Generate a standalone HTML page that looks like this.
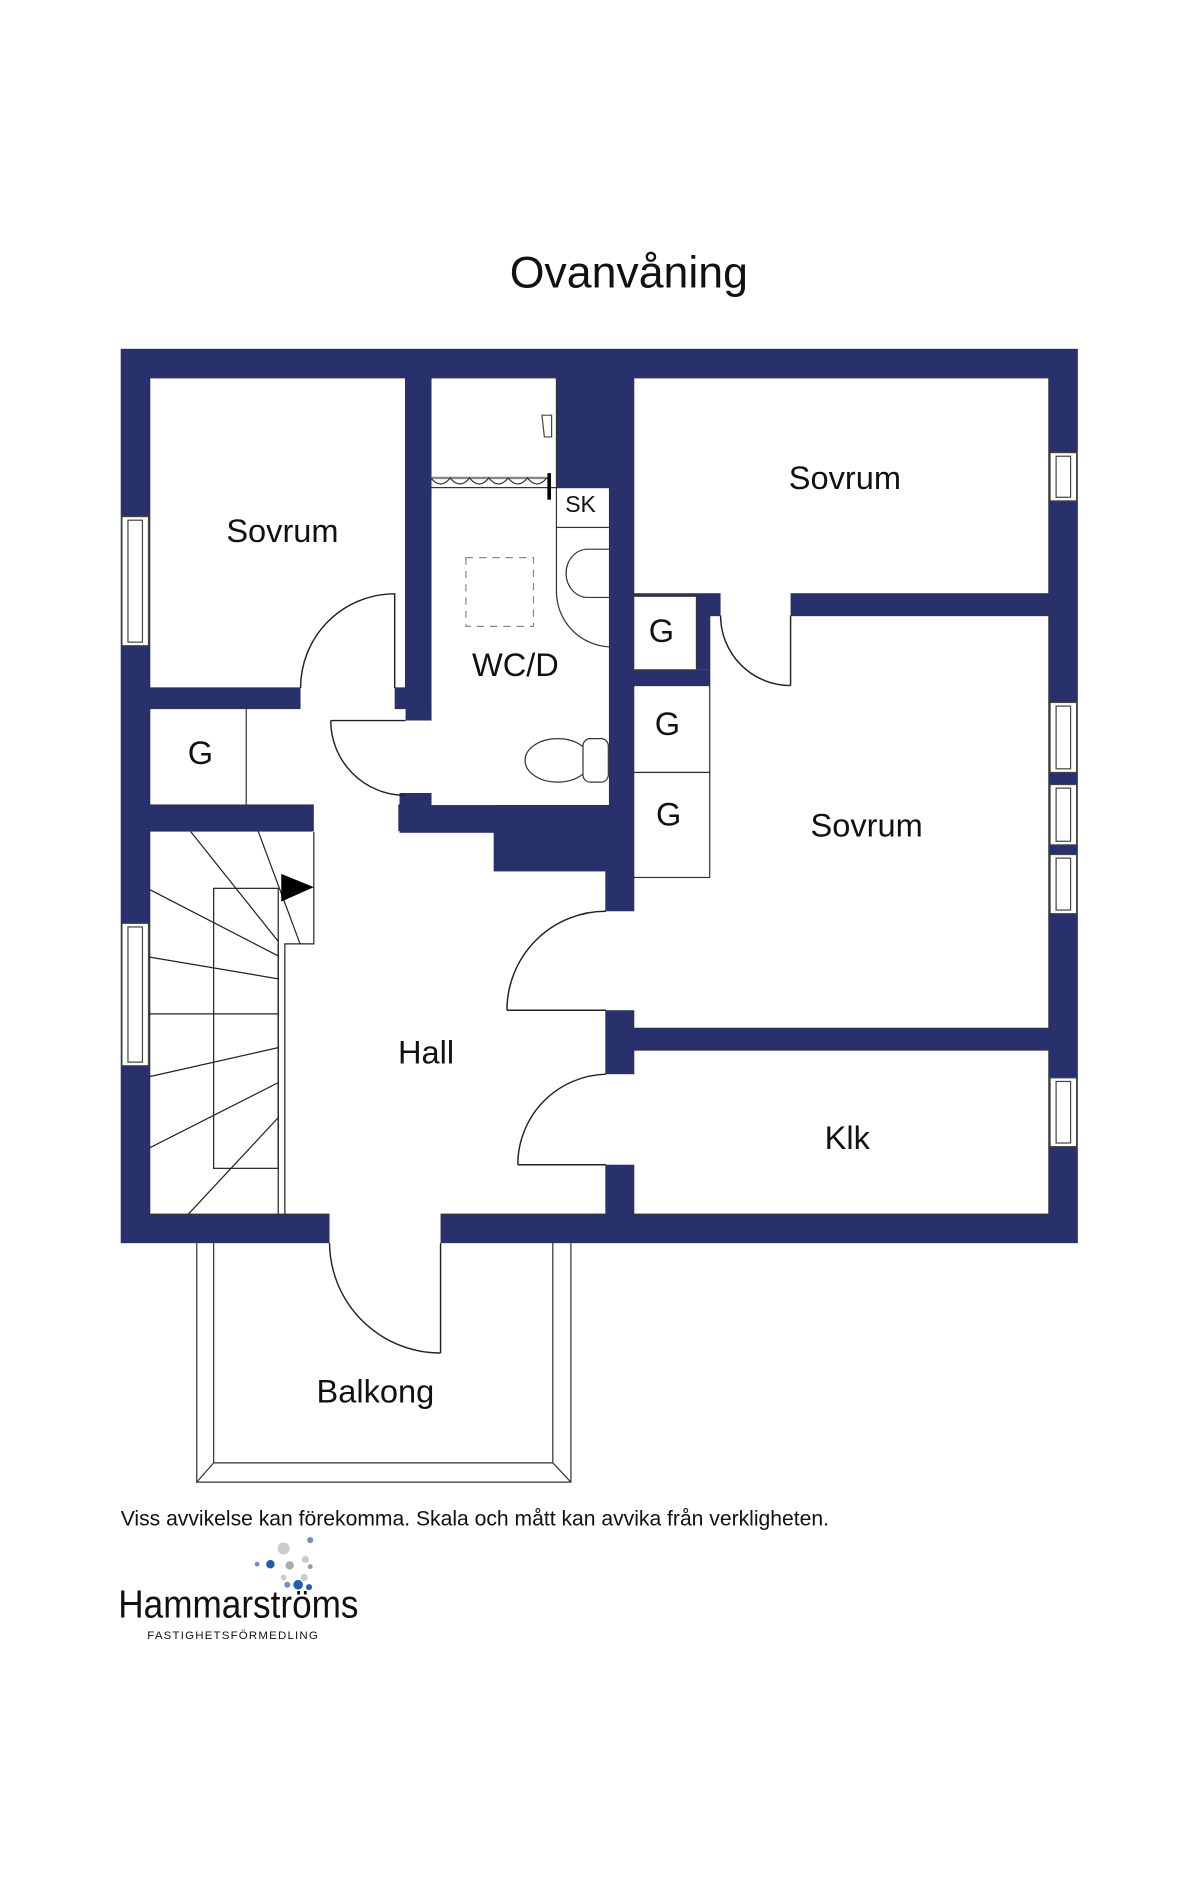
<!DOCTYPE html>
<html><head><meta charset="utf-8"><style>
html,body{margin:0;padding:0;background:#fff;}
svg{display:block;}
text{font-family:"Liberation Sans",Arial,sans-serif;fill:#111;}
</style></head><body>
<svg width="1200" height="1893" viewBox="0 0 994.2 1568.4" xmlns="http://www.w3.org/2000/svg">
<text x="521" y="238" font-size="37" text-anchor="middle">Ovanvåning</text>

<rect x="100" y="289" width="793" height="741" fill="#28316c"/>
<g fill="#fff" stroke="#333" stroke-width="1">
<rect x="124" y="313" width="212" height="257"/>
<rect x="357" y="313" width="104" height="91"/>
<rect x="357" y="404" width="148" height="266"/>
<rect x="124" y="587" width="233" height="80"/>
<rect x="124" y="688" width="378" height="318"/>
<rect x="525" y="313" width="344" height="179"/>
<rect x="525" y="510" width="344" height="342"/>
<rect x="525" y="870" width="344" height="136"/>
</g>
<g fill="#28316c">
<rect x="331" y="667" width="174" height="23"/>
<rect x="409" y="667" width="96" height="55"/>
<rect x="502" y="667" width="23" height="88"/>
<rect x="502" y="837" width="23" height="53"/>
<rect x="502" y="965" width="23" height="41"/>
<rect x="123" y="667" width="136" height="22"/>
<rect x="336" y="313" width="21" height="284"/>
<rect x="327" y="570" width="30" height="17"/>
<rect x="331" y="657" width="26" height="12"/>
<rect x="124" y="570" width="125" height="17"/>
<rect x="655" y="492" width="214" height="18"/>
<rect x="575" y="492" width="22" height="18"/>
<rect x="577" y="510" width="11" height="45"/>
<rect x="525" y="555" width="63" height="13"/>
<rect x="525" y="852" width="344" height="18"/>
</g>
<g fill="#fff">
<rect x="249" y="569" width="78" height="19"/>
<rect x="335" y="597" width="23" height="60"/>
<rect x="501" y="755" width="25" height="82"/>
<rect x="501" y="890" width="25" height="75"/>
<rect x="597" y="491" width="58" height="20"/>
<rect x="273" y="1005" width="92" height="26"/>
<rect x="260" y="666" width="70" height="24"/>
<rect x="205" y="588" width="126" height="78"/>
</g>
<g fill="none" stroke="#333" stroke-width="1">
<line x1="204" y1="587" x2="204" y2="667"/>
<rect x="525" y="494" width="52" height="61" fill="#fff"/>
<rect x="525" y="568" width="63" height="72" fill="#fff"/>
<rect x="525" y="640" width="63" height="87" fill="#fff"/>
<line x1="588" y1="510" x2="588" y2="568"/>
</g>
<g fill="#fff" stroke="#444" stroke-width="1">
<rect x="101" y="428" width="22" height="107"/><rect x="106" y="431" width="12" height="101"/>
<rect x="101" y="765" width="22" height="118"/><rect x="106" y="768" width="12" height="112"/>
<rect x="870" y="375" width="22" height="40"/><rect x="875" y="378" width="12" height="34"/>
<rect x="870" y="582" width="22" height="58"/><rect x="875" y="585" width="12" height="52"/>
<rect x="870" y="650" width="22" height="50"/><rect x="875" y="653" width="12" height="44"/>
<rect x="870" y="708" width="22" height="49"/><rect x="875" y="711" width="12" height="43"/>
<rect x="870" y="893" width="22" height="57"/><rect x="875" y="896" width="12" height="51"/>
</g>
<g fill="none" stroke="#222" stroke-width="1.2">
<path d="M249,570 A78,78 0 0 1 327,492 L327,570"/>
<path d="M274,597 L336,597 M274,597 A62,62 0 0 0 336,659"/>
<path d="M420,837 L502,837 M420,837 A82,82 0 0 1 502,755"/>
<path d="M429,965 L502,965 M429,965 A75,75 0 0 1 502,890"/>
<path d="M655,510 L655,568 M597,510 A58,58 0 0 0 655,568"/>
<path d="M365,1030 L365,1121 M273,1030 A92,92 0 0 0 365,1121"/>
</g>
<g fill="none" stroke="#222" stroke-width="1">
<path d="M260,689 L260,782 L236,782 L236,1006 M230.5,782 L230.5,1006"/>
<rect x="177" y="736" width="53.5" height="232"/>
<line x1="158" y1="689" x2="230.5" y2="780"/>
<line x1="214" y1="689" x2="248.6" y2="782"/>
<line x1="124" y1="737" x2="230.5" y2="792"/>
<line x1="124" y1="793" x2="230.5" y2="811"/>
<line x1="124" y1="840" x2="230.5" y2="840"/>
<line x1="124" y1="892" x2="230.5" y2="868"/>
<line x1="124" y1="951" x2="230.5" y2="897"/>
<line x1="156" y1="1006" x2="230.5" y2="926"/>
</g>
<polygon points="233,724 260,735 233,747" fill="#000"/>
<g fill="none" stroke="#333" stroke-width="1">
<rect x="461" y="404" width="44" height="33" fill="#fff"/>
<path d="M461,437 L461,490 A46,46 0 0 0 505,536"/>
<path d="M505,455 L487,455 A18,20 0 0 0 487,495 L505,495"/>
<rect x="386" y="462" width="56" height="57" stroke="#888" stroke-dasharray="6,5"/>
<ellipse cx="462" cy="630" rx="27" ry="18" fill="#fff"/>
<rect x="483" y="612" width="21" height="36" rx="6" fill="#fff"/>
<path d="M357,396 L455,396" stroke="#888" stroke-width="2"/>
<path d="M357,396 q8,10 16,0 q8,10 16,0 q8,10 16,0 q8,10 16,0 q8,10 16,0 q8,10 16,0" />
<path d="M449,344 h8 v18 h-6 z" stroke="#444"/>
</g>
<line x1="455" y1="392" x2="455" y2="414" stroke="#000" stroke-width="3"/>
<g fill="none" stroke="#333" stroke-width="1">
<path d="M163,1030 L163,1228 L473,1228 L473,1030"/>
<path d="M177,1030 L177,1212 L458,1212 L458,1030"/>
<line x1="163" y1="1228" x2="177" y2="1212"/>
<line x1="473" y1="1228" x2="458" y2="1212"/>
</g>
<g font-size="27" text-anchor="middle">
<text x="234" y="449">Sovrum</text>
<text x="700" y="405">Sovrum</text>
<text x="718" y="693">Sovrum</text>
<text x="427" y="560">WC/D</text>
<text x="353" y="881">Hall</text>
<text x="702" y="952">Klk</text>
<text x="311" y="1162">Balkong</text>
<text x="166" y="633">G</text>
<text x="548" y="532">G</text>
<text x="553" y="609">G</text>
<text x="554" y="684">G</text>
</g>
<text x="481" y="424" font-size="19" text-anchor="middle">SK</text>
<text x="100" y="1264" font-size="17.5">Viss avvikelse kan förekomma. Skala och mått kan avvika från verkligheten.</text>
<g>
<circle cx="257" cy="1276" r="2.5" fill="#6b8fc8"/>
<circle cx="235" cy="1283" r="5" fill="#ccc"/>
<circle cx="253" cy="1292" r="3" fill="#ccc"/>
<circle cx="213" cy="1296" r="2" fill="#6b8fc8"/>
<circle cx="224" cy="1296" r="3.5" fill="#1f5fae"/>
<circle cx="240" cy="1297" r="3.5" fill="#aaa"/>
<circle cx="257" cy="1298" r="2" fill="#999"/>
<circle cx="235" cy="1307" r="2.5" fill="#ccc"/>
<circle cx="252" cy="1307" r="3" fill="#ccc"/>
<circle cx="238" cy="1313" r="2.5" fill="#6b8fc8"/>
<circle cx="247" cy="1313" r="4" fill="#1f5fae"/>
<circle cx="256" cy="1315" r="2.5" fill="#1f5fae"/>
</g>
<text x="98" y="1340" font-size="32" textLength="199" lengthAdjust="spacingAndGlyphs" style="fill:#111">Hammarströms</text>
<text x="122" y="1358" font-size="9.5" letter-spacing="1">FASTIGHETSFÖRMEDLING</text>
</svg>
</body></html>
